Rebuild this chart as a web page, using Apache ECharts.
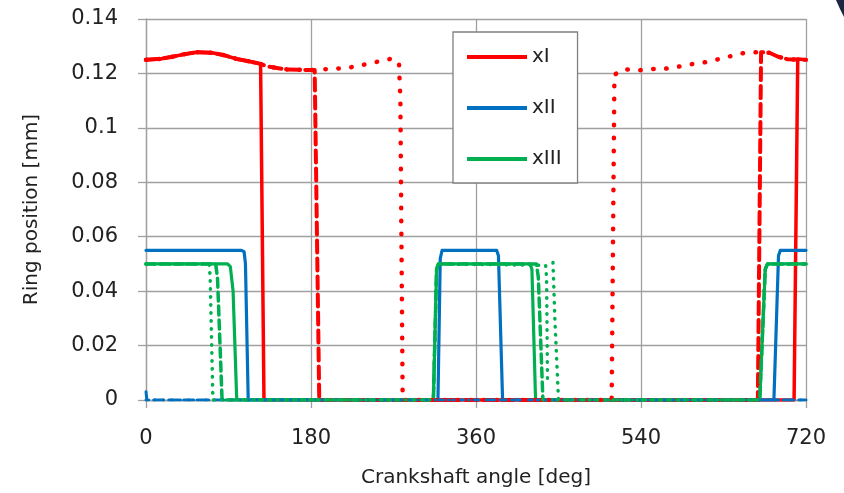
<!DOCTYPE html>
<html>
<head>
<meta charset="utf-8">
<script src="https://cdn.jsdelivr.net/npm/echarts@6.0.0/dist/echarts.min.js"></script>
<style>
  html, body { margin: 0; padding: 0; background: #fff; }
  #chart { width: 844px; height: 493px; }
</style>
</head>
<body>
<div id="chart"></div>
<script>
// ---- Data (angle [deg], ring position [mm]) ----
const xTicks = [0, 180, 360, 540, 720];
const yTicks = [0, 0.02, 0.04, 0.06, 0.08, 0.1, 0.12, 0.14];
const legendNames = ['xI', 'xII', 'xIII'];

// ring xI (red)
const xI_solid = [[0,0.125],[15,0.1253],[30,0.1262],[41,0.127],[55,0.1278],[72,0.1276],[84,0.1268],[99,0.1253],[113,0.1244],[125,0.1235],[126.5,0.1233],[128.7,0],[707,0],[711,0.1253],[720,0.125]];
const xI_dashed = [[0,0.125],[15,0.1253],[30,0.1262],[41,0.127],[55,0.1278],[72,0.1276],[84,0.1268],[99,0.1253],[113,0.1244],[125,0.1235],[132,0.1226],[152,0.1215],[174,0.1213],[184,0.1213],[189,0],[667.5,0],[671,0.1278],[680,0.1276],[689,0.1262],[700,0.1252],[710,0.1251],[720,0.125]];
const xI_dotted = [[0,0.125],[15,0.1253],[30,0.1262],[41,0.127],[55,0.1278],[72,0.1276],[84,0.1268],[99,0.1253],[113,0.1244],[125,0.1235],[132,0.1226],[152,0.1215],[174,0.1213],[184,0.1213],[198,0.1216],[213,0.1219],[229,0.1225],[242,0.1236],[257,0.1246],[270,0.1256],[276,0.1234],[277.5,0.11],[280,0],[508,0],[511,0.1195],[521,0.1216],[536,0.1211],[551,0.1216],[566,0.1217],[581,0.1225],[595,0.1234],[610,0.1241],[622,0.125],[636,0.1262],[650,0.1274],[664,0.1278],[680,0.1276],[689,0.1262],[700,0.1252],[710,0.1251],[720,0.125]];

// ring xII (blue)
const xII_solid = [[0,0.055],[104,0.055],[107,0.0545],[108.5,0.05],[111.5,0],[318.5,0],[321,0.052],[323,0.055],[382.5,0.055],[384.5,0.053],[389,0],[685,0],[690,0.053],[692,0.055],[720,0.055]];
const xII_dashed = [[0,0.003],[1,0],[720,0]];
const xII_dotted = [[0,0],[720,0]];

// ring xIII (green)
const xIII_solid = [[0,0.05],[89,0.05],[92,0.049],[95,0.04],[99,0],[313.5,0],[317,0.048],[319,0.05],[419,0.05],[421,0.048],[425,0],[669.5,0],[675.5,0.048],[678,0.05],[720,0.05]];
const xIII_dashed = [[0,0.05],[76,0.05],[78,0.045],[83,0],[313.5,0],[317,0.048],[319,0.05],[426,0.05],[428,0.045],[433,0],[669.5,0],[675.5,0.048],[678,0.05],[720,0.05]];
const xIII_dotted = [[0,0.05],[69,0.05],[70,0.045],[73,0],[313.5,0],[317,0.048],[319,0.05],[436,0.0495],[437,0.045],[438,0.007],[438.5,null],[444,0.0505],[446,0.03],[450,0],[669.5,0],[675.5,0.048],[678,0.05],[720,0.05]];

// ---- Styles ----
const RED = '#ff0000', BLUE = '#0070c0', GREEN = '#00b050';
const FONT = 'DejaVu Sans';
const TXT = '#222222';
const GRIDC = '#a0a0a0';

function mk(name, data, color, width, type, z) {
  return {
    name: name, type: 'line', data: data, z: z,
    showSymbol: false, symbol: 'none', silent: true, connectNulls: false,
    lineStyle: { color: color, width: width, type: type, cap: 'round', join: 'round' },
    itemStyle: { color: color },
    emphasis: { disabled: true }
  };
}

const chart = echarts.init(document.getElementById('chart'), null, { renderer: 'canvas' });
chart.setOption({
  animation: false,
  backgroundColor: '#ffffff',
  grid: { left: 146, top: 19, right: 38, bottom: 92, containLabel: false },
  legend: {
    data: legendNames,
    orient: 'vertical',
    left: 453, top: 32,
    icon: 'rect',
    itemWidth: 60, itemHeight: 4,
    itemGap: 27,
    padding: [13, 16, 12, 14],
    backgroundColor: '#ffffff',
    borderColor: '#808080', borderWidth: 1.3,
    textStyle: { fontFamily: FONT, fontSize: 20, color: TXT, lineHeight: 24 },
    selectedMode: false
  },
  xAxis: {
    type: 'value', min: 0, max: 720, interval: 180,
    name: 'Crankshaft angle [deg]', nameLocation: 'middle', nameGap: 68,
    nameTextStyle: { fontFamily: FONT, fontSize: 20, color: TXT },
    axisLine: { show: true, lineStyle: { color: GRIDC, width: 1.3 } },
    axisTick: { show: true, inside: false, length: 8, lineStyle: { color: GRIDC, width: 1.3 } },
    axisLabel: { fontFamily: FONT, fontSize: 21, color: TXT, margin: 28,
      formatter: function (v) { return xTicks.indexOf(v) >= 0 ? String(v) : ''; } },
    splitLine: { show: true, lineStyle: { color: GRIDC, width: 1.3 } }
  },
  yAxis: {
    type: 'value', min: 0, max: 0.14, interval: 0.02,
    name: 'Ring position [mm]', nameLocation: 'middle', nameGap: 104, nameRotate: 90,
    nameTextStyle: { fontFamily: FONT, fontSize: 20, color: TXT },
    axisLine: { show: true, lineStyle: { color: GRIDC, width: 1.3 } },
    axisTick: { show: true, inside: false, length: 8, lineStyle: { color: GRIDC, width: 1.3 } },
    axisLabel: { fontFamily: FONT, fontSize: 21, color: TXT, margin: 28,
      formatter: function (v) { const r = +v.toFixed(2); return yTicks.indexOf(r) >= 0 ? String(r) : ''; } },
    splitLine: { show: true, lineStyle: { color: GRIDC, width: 1.3 } }
  },
  graphic: [{
    type: 'polygon', silent: true,
    shape: { points: [[836,0],[844,0],[844,17],[840,9]] },
    style: { fill: '#1c2541' }
  }],
  series: [
    mk('xI', xI_solid, RED, 3.5, 'solid', 2),
    mk('xII', xII_solid, BLUE, 3.2, 'solid', 2),
    mk('xIII', xIII_solid, GREEN, 3.2, 'solid', 2),
    mk('xI dashed', xI_dashed, RED, 4, [12, 6], 3),
    mk('xII dashed', xII_dashed, BLUE, 3, [10, 5], 3),
    mk('xIII dashed', xIII_dashed, GREEN, 3.5, [9, 5], 3),
    mk('xI dotted', xI_dotted, RED, 4.5, [0.5, 12.5], 4),
    mk('xII dotted', xII_dotted, BLUE, 3, [0.5, 8], 4),
    mk('xIII dotted', xIII_dotted, GREEN, 3.5, [0.5, 7.5], 4)
  ]
});
</script>
</body>
</html>
